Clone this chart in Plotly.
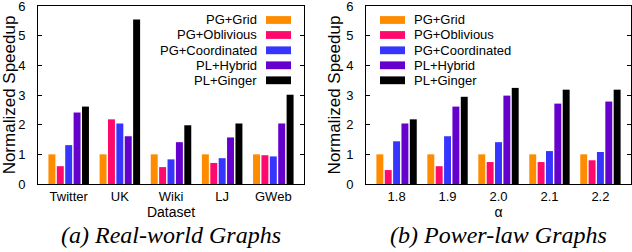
import plotly.graph_objects as go

series = ["PG+Grid", "PG+Oblivious", "PG+Coordinated", "PL+Hybrid", "PL+Ginger"]
colors = ["#FF8C00", "#FF0A6C", "#3535FF", "#6600CC", "#000000"]

datasets = ["Twitter", "UK", "Wiki", "LJ", "GWeb"]
real_world = {
    "PG+Grid":        [1.00, 1.00, 1.00, 1.00, 1.00],
    "PG+Oblivious":   [0.60, 2.18, 0.57, 0.71, 0.97],
    "PG+Coordinated": [1.31, 2.04, 0.83, 0.87, 0.93],
    "PL+Hybrid":      [2.41, 1.61, 1.41, 1.57, 2.04],
    "PL+Ginger":      [2.61, 5.55, 1.98, 2.04, 3.01],
}

alphas = ["1.8", "1.9", "2.0", "2.1", "2.2"]
power_law = {
    "PG+Grid":        [1.00, 1.00, 1.00, 1.00, 1.00],
    "PG+Oblivious":   [0.47, 0.60, 0.74, 0.74, 0.80],
    "PG+Coordinated": [1.44, 1.61, 1.41, 1.11, 1.08],
    "PL+Hybrid":      [2.04, 2.61, 2.98, 2.71, 2.78],
    "PL+Ginger":      [2.18, 2.94, 3.24, 3.18, 3.18],
}
y_ticks = [0, 1, 2, 3, 4, 5, 6]

W, H = 632, 252
ML, MR, MT, MB = 38, 1, 6, 68
PW = W - ML - MR
PH = H - MT - MB


def px(x):
    return (x - ML) / PW


def py(y):
    return (H - MB - y) / PH


fig = go.Figure()
for name, col in zip(series, colors):
    fig.add_trace(go.Bar(x=datasets, y=real_world[name], name=name,
                         marker=dict(color=col, line=dict(width=0)),
                         showlegend=False, xaxis="x", yaxis="y"))
for name, col in zip(series, colors):
    fig.add_trace(go.Bar(x=alphas, y=power_law[name], name=name,
                         marker=dict(color=col, line=dict(width=0)),
                         showlegend=False, xaxis="x2", yaxis="y2"))

font_sans = "Liberation Sans, Arial, sans-serif"
axis_common = dict(showline=True, linecolor="black", linewidth=1, mirror=True,
                   showgrid=False, zeroline=False, automargin=False)
yaxis_common = dict(axis_common, range=[0, 6.001], tickmode="array", tickvals=y_ticks,
                    ticktext=[str(v) for v in y_ticks],
                    ticks="inside", ticklen=4,
                    tickcolor="black", mirror="ticks",
                    tickfont=dict(family=font_sans, size=13, color="black"),
                    ticklabelstandoff=9, ticklabeloverflow="allow")
xaxis_common = dict(axis_common, type="category", range=[-0.6, 4.6], ticks="",
                    tickfont=dict(family=font_sans, size=13, color="black"))

left_dom = [0, px(304)]
right_dom = [px(366), 1]

fig.update_layout(
    width=W, height=H,
    margin=dict(l=ML, r=MR, t=MT, b=MB, autoexpand=False),
    paper_bgcolor="white", plot_bgcolor="white",
    barmode="group", bargap=0.18, bargroupgap=0.17,
    xaxis=dict(xaxis_common, domain=left_dom, anchor="y",
               title=dict(text="Dataset", font=dict(family=font_sans, size=14, color="black"),
                          standoff=0)),
    yaxis=dict(yaxis_common, anchor="x",
               title=dict(text="Normalized Speedup",
                          font=dict(family=font_sans, size=17, color="black"), standoff=1)),
    xaxis2=dict(xaxis_common, domain=right_dom, anchor="y2",
                title=dict(text="α", font=dict(family=font_sans, size=14, color="black"),
                           standoff=0)),
    yaxis2=dict(yaxis_common, anchor="x2",
                title=dict(text="Normalized Speedup",
                           font=dict(family=font_sans, size=17, color="black"), standoff=1)),
)

shapes = []
annotations = []
row_y = [20, 35, 50.3, 65.3, 80.3]
for name, col, ry in zip(series, colors, row_y):
    # left legend: text right-aligned, swatch on the right
    shapes.append(dict(type="rect", xref="paper", yref="paper",
                       x0=px(266), x1=px(291), y0=py(ry + 3.9), y1=py(ry - 3.9),
                       fillcolor=col, line=dict(width=0)))
    annotations.append(dict(text=name, xref="paper", yref="paper", x=px(259), y=py(ry),
                            xanchor="right", yanchor="middle", showarrow=False,
                            font=dict(family=font_sans, size=13, color="black")))
    # right legend: swatch on the left, text left-aligned
    shapes.append(dict(type="rect", xref="paper", yref="paper",
                       x0=px(380), x1=px(405), y0=py(ry + 3.9), y1=py(ry - 3.9),
                       fillcolor=col, line=dict(width=0)))
    annotations.append(dict(text=name, xref="paper", yref="paper", x=px(412), y=py(ry),
                            xanchor="left", yanchor="middle", showarrow=False,
                            font=dict(family=font_sans, size=13, color="black")))

font_serif = "Liberation Serif, Times New Roman, serif"
annotations.append(dict(text="<i>(a) Real-world Graphs</i>", xref="paper", yref="paper",
                        x=(left_dom[0] + left_dom[1]) / 2, y=py(235), xanchor="center",
                        yanchor="middle", showarrow=False,
                        font=dict(family=font_serif, size=24, color="black")))
annotations.append(dict(text="<i>(b) Power-law Graphs</i>", xref="paper", yref="paper",
                        x=(right_dom[0] + right_dom[1]) / 2, y=py(235), xanchor="center",
                        yanchor="middle", showarrow=False,
                        font=dict(family=font_serif, size=24, color="black")))

fig.update_layout(shapes=shapes, annotations=annotations)
fig.write_html("out.html", config={"displayModeBar": False},
               post_script="document.body.style.margin='0';document.body.style.padding='0';")
